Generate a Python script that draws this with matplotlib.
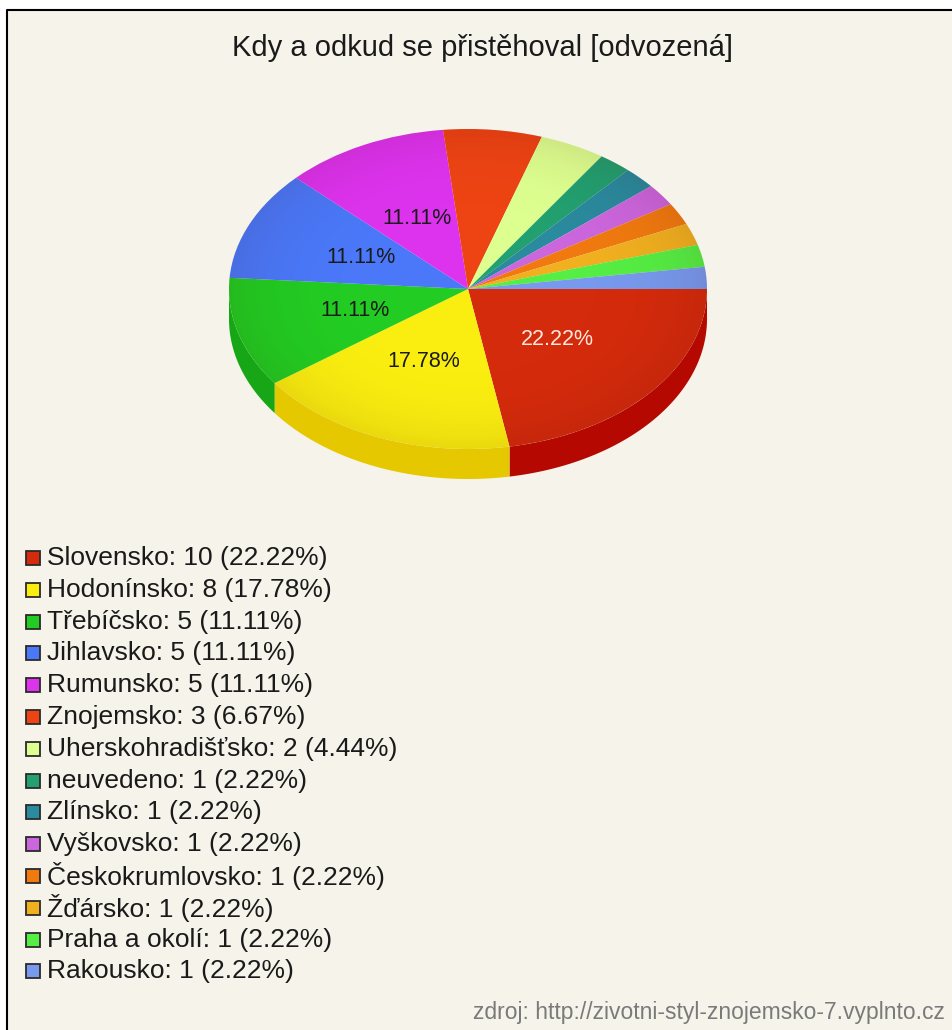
import numpy as np
import matplotlib.pyplot as plt
from matplotlib.patches import Rectangle, Polygon, Ellipse
from matplotlib.transforms import Affine2D

plt.rcParams['font.family'] = ['Liberation Sans', 'DejaVu Sans']

# data
titulek = "Kdy a odkud se přistěhoval [odvozená]"
nazvy = ["Slovensko", "Hodonínsko", "Třebíčsko", "Jihlavsko", "Rumunsko",
         "Znojemsko", "Uherskohradišťsko", "neuvedeno", "Zlínsko", "Vyškovsko",
         "Českokrumlovsko", "Žďársko", "Praha a okolí", "Rakousko"]
pocty = [10, 8, 5, 5, 5, 3, 2, 1, 1, 1, 1, 1, 1, 1]
procenta = [22.22, 17.78, 11.11, 11.11, 11.11, 6.67, 4.44,
            2.22, 2.22, 2.22, 2.22, 2.22, 2.22, 2.22]
barvy = ['#D42B0C', '#FAEE10', '#22CC22', '#4A78F8', '#DD33EE',
         '#EE4414', '#DDFF90', '#22A070', '#2A8A9E', '#CC66DD',
         '#F07A10', '#F0B020', '#55EE44', '#7799EE']
barvy_boku = ['#B50800', '#E6C800', '#16A616', '#3358D0', '#B020C0',
              '#C83000', '#B8D870', '#178050', '#1C6A7C', '#A048B0',
              '#C85E00', '#C88E10', '#3CC030', '#5878C8']
zdroj = "zdroj: http://zivotni-styl-znojemsko-7.vyplnto.cz"

W, H = 952, 1030
fig = plt.figure(figsize=(W / 100, H / 100), dpi=100)
fig.patch.set_facecolor('white')
ax = fig.add_axes([0, 0, 1, 1])

# pozadi s ramem vlevo a nahore
ax.add_patch(Rectangle((6, 9), W, H, facecolor='#F5F3EA', edgecolor='none', zorder=0))
ax.plot([6.5, 6.5, W], [H, 9.5, 9.5], color='black', lw=1.5, zorder=1)

cx, cy, rx, ry, hloubka = 468, 289, 239, 160, 30
elipsa = Affine2D().scale(rx, ry).translate(cx, cy) + ax.transData

wedges, _ = ax.pie(pocty, colors=barvy, startangle=0, counterclock=True,
                   radius=1, center=(0, 0), frame=True,
                   wedgeprops=dict(linewidth=0))
for w in wedges:
    w.set_transform(elipsa)
    w.set_zorder(4)

# boky kolace (predni polovina)
for w, bc in zip(wedges, barvy_boku):
    a, b = max(w.theta1, 0), min(w.theta2, 180)
    if a >= b:
        continue
    t = np.radians(np.linspace(a, b, 80))
    xs = cx + rx * np.cos(t)
    ys = cy + ry * np.sin(t)
    pts = np.vstack([np.column_stack([xs, ys]),
                     np.column_stack([xs[::-1], ys[::-1] + hloubka])])
    ax.add_patch(Polygon(pts, closed=True, facecolor=bc, edgecolor='none', zorder=3))

# jemne stinovani horni plochy
gx, gy = np.meshgrid(np.linspace(cx - rx, cx + rx, 300), np.linspace(cy - ry, cy + ry, 200))
r = np.sqrt(((gx - cx) / rx) ** 2 + ((gy - cy) / ry) ** 2)
stin = np.zeros(gx.shape + (4,))
stin[..., 0] = 0.25
stin[..., 3] = np.clip(0.09 * r ** 5, 0, 0.09)
im = ax.imshow(stin, extent=(cx - rx, cx + rx, cy + ry, cy - ry), zorder=5, interpolation='bilinear')
okraj = Ellipse((cx, cy), 2 * rx, 2 * ry, transform=ax.transData, facecolor='none', edgecolor='none')
ax.add_patch(okraj)
im.set_clip_path(okraj)

# popisky v kolaci
for w, p in zip(wedges, procenta):
    if p < 10:
        continue
    m = np.radians((w.theta1 + w.theta2) / 2)
    barva = '#FFE8DC' if p > 20 else '#1A1A1A'
    ax.text(cx + 0.49 * rx * np.cos(m), cy + 0.49 * ry * np.sin(m), f"{p:.2f}%",
            ha='center', va='center', fontsize=15.5, color=barva, zorder=6)

ax.text(483, 48, titulek, ha='center', va='center', fontsize=21, color='#1A1A1A')

# legenda
for i, (n, c, k, p) in enumerate(zip(nazvy, barvy, pocty, procenta)):
    yc = 558 + i * 31.8
    ax.add_patch(Rectangle((26, yc - 7), 14, 14, facecolor=c, edgecolor='#2A2A2A', lw=1.3, zorder=4))
    ax.text(47, yc, f"{n}: {k} ({p:.2f}%)", ha='left', va='center', fontsize=19, color='#1A1A1A')

ax.text(945, 1013, zdroj, ha='right', va='center', fontsize=16.5, color='#7A7A7A')

ax.set_xlim(0, W)
ax.set_ylim(H, 0)
ax.set_aspect('auto')
ax.axis('off')

fig.savefig('out.png', dpi=100, facecolor=fig.get_facecolor())
